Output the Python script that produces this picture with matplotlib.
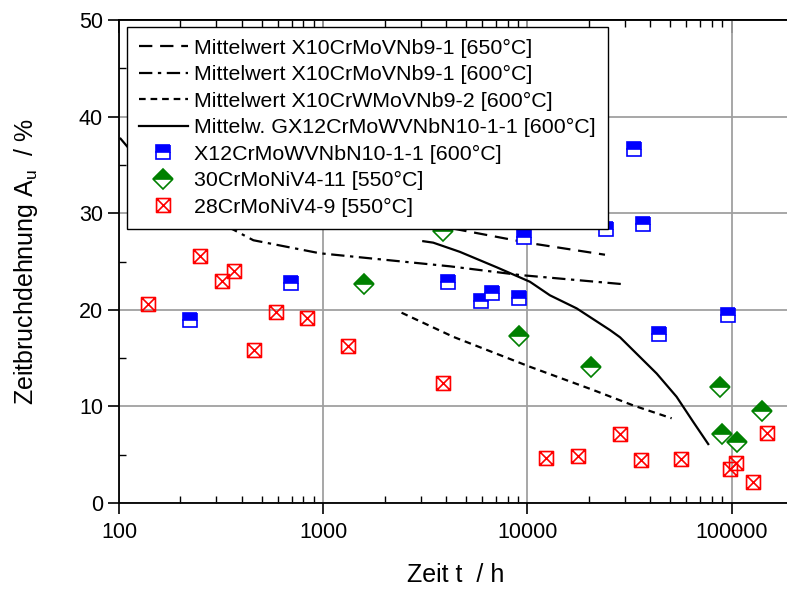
import matplotlib
matplotlib.use("Agg")
import matplotlib.pyplot as plt
from matplotlib.path import Path
from matplotlib.ticker import LogLocator, MultipleLocator, NullFormatter, FixedLocator

plt.rcParams['font.family'] = ['Liberation Sans', 'DejaVu Sans']

# ---- data ----
# Mean curves
t_650 = [4340, 10300, 24000]
a_650 = [28.4, 26.9, 25.7]

t_600 = [101, 150, 250, 363, 455, 964, 4180, 9200, 29500]
a_600 = [37.8, 33.5, 29.8, 28.3, 27.2, 25.85, 24.5, 23.6, 22.65]

t_w600 = [2420, 4340, 10300, 21000, 33000, 50900]
a_w600 = [19.7, 17.2, 14.1, 11.7, 10.1, 8.77]

t_gx = [3093, 3460, 4670, 7080, 10300, 12900, 17430, 25400, 28450, 43000, 53800, 64900, 76900]
a_gx = [27.1, 26.95, 26.0, 24.4, 22.9, 21.5, 20.15, 17.9, 17.15, 13.4, 11.0, 8.4, 6.1]

# X12CrMoWVNbN10-1-1 [600°C]
t_x12 = [223, 696, 4100, 5910, 6710, 9100, 9660, 24270, 33150, 36700, 44100, 96000]
a_x12 = [18.9, 22.8, 22.9, 20.9, 21.7, 21.2, 27.5, 28.4, 36.6, 28.9, 17.5, 19.5]

# 30CrMoNiV4-11 [550°C]
t_30 = [1585, 3875, 9100, 20400, 87700, 90100, 106000, 141000]
a_30 = [22.7, 28.2, 17.3, 14.1, 12.0, 7.1, 6.35, 9.55]

# 28CrMoNiV4-9 [550°C]
t_28 = [139, 249, 318, 366, 460, 587, 830, 1318, 3873, 12300, 17700, 28300,
        35900, 56700, 98200, 105000, 126900, 148600]
a_28 = [20.6, 25.6, 23.0, 24.0, 15.8, 19.8, 19.2, 16.25, 12.4, 4.7, 4.9, 7.14,
        4.45, 4.6, 3.5, 4.1, 2.2, 7.2]

labels = ['Mittelwert X10CrMoVNb9-1 [650°C]',
          'Mittelwert X10CrMoVNb9-1 [600°C]',
          'Mittelwert X10CrWMoVNb9-2 [600°C]',
          'Mittelw. GX12CrMoWVNbN10-1-1 [600°C]',
          'X12CrMoWVNbN10-1-1 [600°C]',
          '30CrMoNiV4-11 [550°C]',
          '28CrMoNiV4-9 [550°C]']

xticks = [100, 1000, 10000, 100000]
xticklabels = ['100', '1000', '10000', '100000']
yticks = [0, 10, 20, 30, 40, 50]

# ---- figure ----
fig = plt.figure(figsize=(7.87, 5.89), dpi=100)
ax = fig.add_axes([119/787, 1-503/589, (793-119)/787, (503-20)/589])

ax.set_xscale('log')
ax.set_xlim(100, 2e5)
ax.set_ylim(0, 50)

ax.grid(True, which='major', color='#a0a0a0', lw=1.3, zorder=0)
ax.set_axisbelow(True)

lw = 1.6
ax.plot(t_650, a_650, color='black', lw=lw, ls=(0, (6, 3.5)), label=labels[0], zorder=2)
ax.plot(t_600, a_600, color='black', lw=lw, ls=(0, (6, 2.5, 1.5, 2.5)), label=labels[1], zorder=2)
ax.plot(t_w600, a_w600, color='black', lw=lw, ls=(0, (3, 2.2)), label=labels[2], zorder=2)
ax.plot(t_gx, a_gx, color='black', lw=lw, ls='-', label=labels[3], zorder=2)

ax.plot(t_x12, a_x12, ls='none', marker='s', ms=10, fillstyle='top',
        markerfacecolor='#0000ff', markerfacecoloralt='white',
        markeredgecolor='#0000ff', mew=1.2, label=labels[4], zorder=3)
ax.plot(t_30, a_30, ls='none', marker='D', ms=10, fillstyle='top',
        markerfacecolor='#008000', markerfacecoloralt='white',
        markeredgecolor='#008000', mew=1.2, label=labels[5], zorder=3)

verts = [(-1, -1), (1, -1), (1, 1), (-1, 1), (-1, -1),
         (-1, -1), (1, 1), (-1, 1), (1, -1)]
codes = [Path.MOVETO, Path.LINETO, Path.LINETO, Path.LINETO, Path.CLOSEPOLY,
         Path.MOVETO, Path.LINETO, Path.MOVETO, Path.LINETO]
boxx = Path(verts, codes)
ax.plot(t_28, a_28, ls='none', marker=boxx, ms=10, markerfacecolor='none',
        markeredgecolor='#ff0000', mew=1.2, label=labels[6], zorder=3)

# ticks
ax.xaxis.set_major_locator(FixedLocator(xticks))
ax.set_xticklabels(xticklabels)
ax.xaxis.set_minor_locator(LogLocator(base=10, subs=range(2, 10), numticks=20))
ax.xaxis.set_minor_formatter(NullFormatter())
ax.set_yticks(yticks)
ax.yaxis.set_minor_locator(MultipleLocator(5))

ax.tick_params(axis='both', which='major', direction='out', length=8, width=1.2,
               labelsize=15.5, top=False, right=False)
ax.tick_params(axis='both', which='minor', direction='in', length=5, width=1.0,
               top=False, right=False)
ax.tick_params(axis='x', which='major', pad=6)
for s in ax.spines.values():
    s.set_linewidth(1.3)

# top ticks pointing inward
top = ax.secondary_xaxis('top')
top.xaxis.set_major_locator(FixedLocator(xticks))
top.xaxis.set_minor_locator(LogLocator(base=10, subs=range(2, 10), numticks=20))
top.xaxis.set_major_formatter(NullFormatter())
top.xaxis.set_minor_formatter(NullFormatter())
top.tick_params(which='major', direction='in', length=9, width=1.2)
top.tick_params(which='minor', direction='in', length=5, width=1.0)
top.spines['top'].set_linewidth(1.3)

ax.set_xlabel('Zeit t  / h', fontsize=18, labelpad=14)
ax.set_ylabel('Zeitbruchdehnung A$_\\mathregular{u}$  / %', fontsize=18, labelpad=28)

leg = ax.legend(loc='upper left', bbox_to_anchor=(0.0119, 0.986), borderaxespad=0,
                fontsize=15.4, frameon=True, fancybox=False, edgecolor='black',
                handlelength=2.3, handletextpad=0.3, labelspacing=0.35,
                borderpad=0.55, framealpha=1)
leg.get_frame().set_linewidth(1.0)

fig.savefig('out.png', dpi=100)
